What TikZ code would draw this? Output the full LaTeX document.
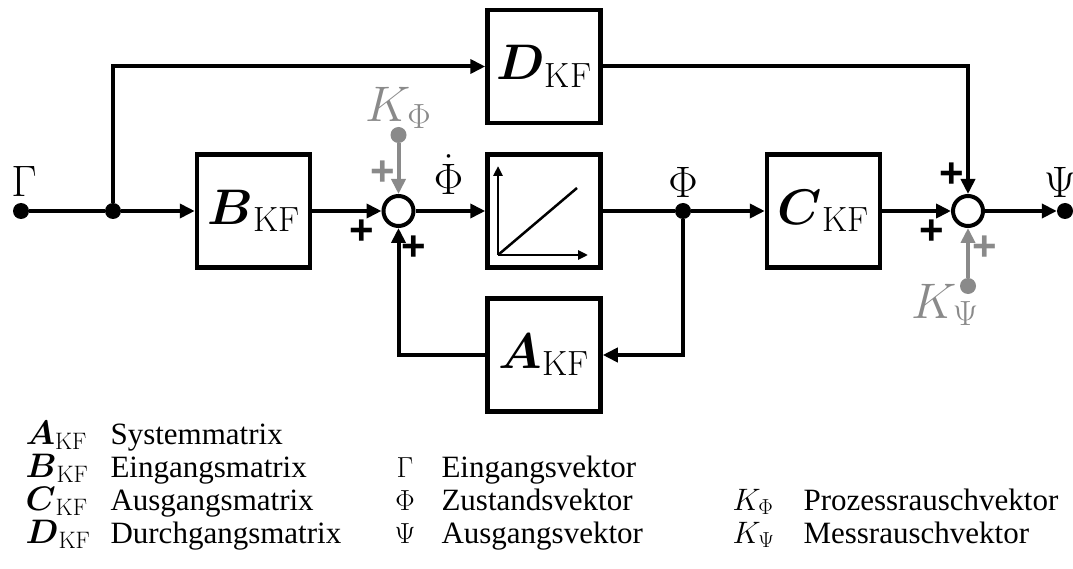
\documentclass[tikz,border=0pt]{standalone}
\usepackage{fix-cm}
\usepackage{amsmath}
\usepackage{fontspec}
\usepackage{tikz}
\usetikzlibrary{positioning,calc,arrows.meta}
\newfontfamily\legendfont{Liberation Serif}
\newfontfamily\plusfont{Liberation Sans}
\definecolor{noisegray}{RGB}{138,138,138}

\tikzset{
    block/.style={draw, line width=4.5pt, minimum width=113pt, minimum height=113pt, inner sep=0pt, font=\fontsize{50}{60}\selectfont},
    sumnode/.style={draw, circle, line width=4pt, fill=white, minimum size=30pt, inner sep=0pt},
    dotnode/.style={circle, fill, minimum size=16pt, inner sep=0pt},
    sig/.style={-{Triangle[length=15pt,width=14pt]}, line width=4pt},
    axis/.style={-{Triangle[length=10pt,width=9pt]}, line width=2.5pt},
    lab/.style={font=\fontsize{44}{50}\selectfont},
    noiselab/.style={text=noisegray, font=\fontsize{50}{60}\selectfont},
    plus/.style={inner sep=0pt, font=\plusfont\bfseries\fontsize{42}{42}\selectfont},
    legsym/.style={anchor=base west, font=\fontsize{34}{40}\selectfont},
    legtext/.style={anchor=base west, font=\legendfont\fontsize{31}{36}\selectfont}
}

\begin{document}
\begin{tikzpicture}[x=1pt, y=-1pt, node distance=144pt]
    \useasboundingbox (0,0) rectangle (1073,569);

    % Main chain
    \node[dotnode] (gin) at (21,211) {};
    \node[dotnode, right of=gin, xshift=-52pt] (split) {};
    \node[block, right of=split, xshift=-3.5pt] (bkf) {$\boldsymbol{B}_{\mathrm{KF}}$};
    \node[sumnode, right of=bkf, xshift=1pt] (sum1) {};
    \node[block, right of=sum1, xshift=1.5pt] (integ) {};
    \node[dotnode, right of=integ, xshift=-5pt] (phi) {};
    \node[block, right of=phi, xshift=-3.5pt] (ckf) {$\boldsymbol{C}_{\mathrm{KF}}$};
    \node[sumnode, right of=ckf, xshift=0.5pt] (sum2) {};
    \node[dotnode, right of=sum2, xshift=-47pt] (psi) {};

    % Feedthrough and feedback
    \node[block, above of=integ, yshift=0.5pt] (dkf) {$\boldsymbol{D}_{\mathrm{KF}}$};
    \node[block, below of=integ] (akf) {$\boldsymbol{A}_{\mathrm{KF}}$};

    % Noise inputs
    \node[dotnode, fill=noisegray, above of=sum1, yshift=-68pt] (kphi) {};
    \node[dotnode, fill=noisegray, below of=sum2, yshift=69pt] (kpsi) {};

    % Integrator symbol
    \coordinate (orig) at ($(integ.center)+(-46,44)$);
    \draw[axis] (orig) -- ++(0,-89);
    \draw[axis] (orig) -- ++(90,0);
    \draw[line width=2.5pt] (orig) -- ++(79,-67);

    % Arrows
    \draw[line width=4pt] (gin) -- (split);
    \draw[sig] (split) -- (bkf);
    \draw[sig] (bkf) -- (sum1);
    \draw[sig] (sum1) -- (integ);
    \draw[line width=4pt] (integ) -- (phi);
    \draw[sig] (phi) -- (ckf);
    \draw[sig] (ckf) -- (sum2);
    \draw[sig] (sum2) -- (psi);
    \draw[sig] (split) |- (dkf);
    \draw[sig] (dkf) -| (sum2);
    \draw[sig] (phi) |- (akf);
    \draw[sig] (akf) -| (sum1);
    \draw[sig, noisegray] (kphi) -- (sum1);
    \draw[sig, noisegray] (kpsi) -- (sum2);

    % Labels
    \node[lab, above of=gin, node distance=30pt, xshift=3pt] (lgamma) {$\Gamma$};
    \node[lab, above of=sum1, node distance=36pt, xshift=50pt] (lphidot) {$\dot{\Phi}$};
    \node[lab, above of=phi, node distance=29pt] (lphi) {$\Phi$};
    \node[lab, above of=psi, node distance=29pt, xshift=-5pt] (lpsi) {$\Psi$};
    \node[noiselab, above of=kphi, node distance=27pt] (lkphi) {$K_{\Phi}$};
    \node[noiselab, below of=kpsi, node distance=19pt, xshift=-23pt] (lkpsi) {$K_{\Psi}$};

    % Signs
    \node[plus] (pa) at ($(sum1)+(-37,21)$) {+};
    \node[plus, text=noisegray] (pb) at ($(sum1)+(-16,-38)$) {+};
    \node[plus] (pc) at ($(sum1)+(15,37)$) {+};
    \node[plus] (pd) at ($(sum2)+(-16,-36)$) {+};
    \node[plus] (pe) at ($(sum2)+(-36,21)$) {+};
    \node[plus, text=noisegray] (pf) at ($(sum2)+(17,37)$) {+};

    % Legend
    \node[legsym] (lgA) at (22,444) {$\boldsymbol{A}_{\mathrm{KF}}$};
    \node[legsym] (lgB) at (22,477) {$\boldsymbol{B}_{\mathrm{KF}}$};
    \node[legsym] (lgC) at (22,510) {$\boldsymbol{C}_{\mathrm{KF}}$};
    \node[legsym] (lgD) at (22,543) {$\boldsymbol{D}_{\mathrm{KF}}$};
    \node[legtext] (txA) at (107,444) {Systemmatrix};
    \node[legtext] (txB) at (107,477) {Eingangsmatrix};
    \node[legtext] (txC) at (107,510) {Ausgangsmatrix};
    \node[legtext] (txD) at (107,543) {Durchgangsmatrix};
    \node[anchor=base, font=\fontsize{29}{34}\selectfont] (lgG) at (405,477) {$\Gamma$};
    \node[anchor=base, font=\fontsize{29}{34}\selectfont] (lgP) at (405,510) {$\Phi$};
    \node[anchor=base, font=\fontsize{29}{34}\selectfont] (lgS) at (405,543) {$\Psi$};
    \node[legtext] (txG) at (438,477) {Eingangsvektor};
    \node[legtext] (txP) at (438,510) {Zustandsvektor};
    \node[legtext] (txS) at (438,543) {Ausgangsvektor};
    \node[legsym, font=\fontsize{31}{36}\selectfont] (lgKP) at (729,510) {$K_{\Phi}$};
    \node[legsym, font=\fontsize{31}{36}\selectfont] (lgKS) at (729,543) {$K_{\Psi}$};
    \node[legtext] (txKP) at (800,510) {Prozessrauschvektor};
    \node[legtext] (txKS) at (800,543) {Messrauschvektor};
\end{tikzpicture}
\end{document}
